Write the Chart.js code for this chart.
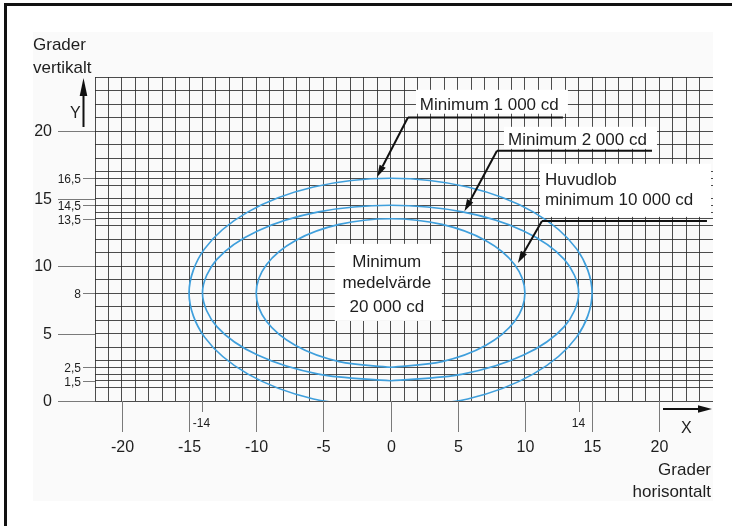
<!DOCTYPE html>
<html><head><meta charset="utf-8">
<script src="https://cdn.jsdelivr.net/npm/chart.js@4/dist/chart.umd.min.js"></script>
<style>html,body{margin:0;padding:0;background:#fff}#wrap{width:732px;height:526px}</style>
</head><body><div id="wrap"><canvas id="c" width="732" height="526"></canvas></div>
<script>
// ---- data (degrees) ----
const curveNames = ['Minimum 1 000 cd', 'Minimum 2 000 cd', 'Huvudlob minimum 10 000 cd'];
const outerX = [0, 5.74, 10.61, 13.86, 15, 13.86, 10.61, 5.74, 0, -5.74, -10.61, -13.86, -15, -13.86, -10.61, -5.74, 0];
const outerY = [-0.5, 0.15, 1.99, 4.75, 8, 11.25, 14.01, 15.85, 16.5, 15.85, 14.01, 11.25, 8, 4.75, 1.99, 0.15, -0.5];
const midX = [0, 5.36, 9.90, 12.93, 14, 12.93, 9.90, 5.36, 0, -5.36, -9.90, -12.93, -14, -12.93, -9.90, -5.36, 0];
const midY = [1.5, 1.99, 3.40, 5.51, 8, 10.49, 12.60, 14.01, 14.5, 14.01, 12.60, 10.49, 8, 5.51, 3.40, 1.99, 1.5];
const innerX = [0, 3.83, 7.07, 9.24, 10, 9.24, 7.07, 3.83, 0, -3.83, -7.07, -9.24, -10, -9.24, -7.07, -3.83, 0];
const innerY = [2.5, 2.92, 4.11, 5.90, 8, 10.10, 11.89, 13.08, 13.5, 13.08, 11.89, 10.10, 8, 5.90, 4.11, 2.92, 2.5];

const xMajorTicks = [-20, -15, -10, -5, 0, 5, 10, 15, 20];
const xMinorTicks = [-14, 14];
const yMajorTicks = [0, 5, 10, 15, 20];
const yMinorTicks = [1.5, 2.5, 8, 13.5, 14.5, 16.5];
const yHalfLines = [1.5, 2.5, 13.5, 14.5, 16.5];
const centerText = ['Minimum', 'medelvärde', '20 000 cd'];

// ---- annotation layout (data units) ----
const FONT = '"Liberation Sans", Arial, Helvetica, sans-serif';
const BLUE = '#3f9fdc';
const INK = '#1e1e1e';
const notes = [
  {lines: ['Minimum 1 000 cd'], tx: 2.18, ty: [21.57], box: [1.89, 23.05, 13.2, 21.28],
   lead: [[12.83, 21.0], [1.29, 21.0], [-1.0, 16.6]]},
  {lines: ['Minimum 2 000 cd'], tx: 8.74, ty: [18.98], box: [8.44, 20.31, 19.83, 18.68],
   lead: [[19.46, 18.53], [7.92, 18.53], [5.5, 14.05]]},
  {lines: ['Huvudlob', 'minimum 10 000 cd'], tx: 11.49, ty: [16.01, 14.53], box: [11.12, 17.57, 23.85, 13.64],
   lead: [[23.55, 13.34], [11.27, 13.34], [9.48, 10.23]]}
];
const centerBox = [-4.15, 11.64, 3.82, 5.93];
const centerPos = {x: -0.28, y: [9.96, 8.38, 6.62]};

const pts = (xs, ys) => xs.map((x, i) => ({x, y: ys[i]}));
const xGrid = []; for (let v = -22; v <= 24; v++) xGrid.push(v);
const yGrid = []; for (let v = 0; v <= 24; v++) yGrid.push(v);
const yGridAll = yGrid.concat(yHalfLines).sort((a, b) => a - b);
const fmt = v => String(v).replace('.', ',');

function arrow(ctx, x0, y0, x1, y1, len, half) {
  const ang = Math.atan2(y1 - y0, x1 - x0);
  const bx = x1 - Math.cos(ang) * len, by = y1 - Math.sin(ang) * len;
  ctx.beginPath(); ctx.moveTo(x0, y0); ctx.lineTo(bx, by); ctx.stroke();
  ctx.beginPath();
  ctx.moveTo(x1, y1);
  ctx.lineTo(bx - Math.sin(ang) * half, by + Math.cos(ang) * half);
  ctx.lineTo(bx + Math.sin(ang) * half, by - Math.cos(ang) * half);
  ctx.closePath(); ctx.fill();
}

const decor = {
  id: 'decor',
  beforeDraw(chart) {
    const ctx = chart.ctx;
    ctx.save();
    ctx.fillStyle = '#fafafa'; ctx.fillRect(33, 32, 680, 469);
    ctx.restore();
  },
  beforeDatasetsDraw(chart) {
    const ctx = chart.ctx, X = chart.scales.x, Y = chart.scales.y;
    ctx.save();
    ctx.fillStyle = '#ffffff';
    const boxes = notes.map(n => n.box).concat([centerBox]);
    boxes.forEach(b => {
      const x0 = X.getPixelForValue(b[0]), y0 = Y.getPixelForValue(b[1]);
      const x1 = X.getPixelForValue(b[2]), y1 = Y.getPixelForValue(b[3]);
      ctx.fillRect(x0, y0, x1 - x0, y1 - y0);
    });
    ctx.restore();
  },
  afterDraw(chart) {
    const ctx = chart.ctx, X = chart.scales.x, Y = chart.scales.y, ca = chart.chartArea;
    ctx.save();
    // frame
    ctx.fillStyle = '#111';
    ctx.fillRect(4, 3, 728, 3);
    ctx.fillRect(4, 3, 3, 523);
    // ticks
    ctx.strokeStyle = '#7a7a7a'; ctx.lineWidth = 1;
    ctx.fillStyle = INK;
    ctx.textAlign = 'center'; ctx.textBaseline = 'alphabetic';
    xMajorTicks.forEach(v => {
      const px = Math.round(X.getPixelForValue(v)) + 0.5;
      ctx.beginPath(); ctx.moveTo(px, ca.bottom); ctx.lineTo(px, ca.bottom + 31); ctx.stroke();
      ctx.font = '16px ' + FONT; ctx.fillText(String(v), px, ca.bottom + 51);
    });
    xMinorTicks.forEach(v => {
      const px = Math.round(X.getPixelForValue(v)) + 0.5;
      ctx.beginPath(); ctx.moveTo(px, ca.bottom); ctx.lineTo(px, ca.bottom + 11); ctx.stroke();
      ctx.font = '12px ' + FONT; ctx.fillText(String(v), px - 1, ca.bottom + 26);
    });
    ctx.textAlign = 'right'; ctx.textBaseline = 'middle';
    yMajorTicks.forEach(v => {
      const py = Math.round(Y.getPixelForValue(v)) + 0.5;
      ctx.beginPath(); ctx.moveTo(ca.left - 37, py); ctx.lineTo(ca.left, py); ctx.stroke();
      ctx.font = '16px ' + FONT; ctx.fillText(fmt(v), ca.left - 43, py);
    });
    yMinorTicks.forEach(v => {
      const py = Math.round(Y.getPixelForValue(v)) + 0.5;
      ctx.beginPath(); ctx.moveTo(ca.left - 12, py); ctx.lineTo(ca.left, py); ctx.stroke();
      ctx.font = '12px ' + FONT; ctx.fillText(fmt(v), ca.left - 14, py + 1);
    });
    // annotations
    ctx.textAlign = 'left'; ctx.textBaseline = 'alphabetic';
    ctx.font = '17px ' + FONT; ctx.fillStyle = INK;
    ctx.strokeStyle = '#111'; ctx.lineWidth = 2;
    notes.forEach(n => {
      n.lines.forEach((t, i) => ctx.fillText(t, X.getPixelForValue(n.tx), Y.getPixelForValue(n.ty[i])));
      const p = n.lead.map(q => [X.getPixelForValue(q[0]), Y.getPixelForValue(q[1])]);
      ctx.beginPath(); ctx.moveTo(p[0][0], p[0][1]); ctx.lineTo(p[1][0], p[1][1]); ctx.stroke();
      ctx.fillStyle = '#111';
      arrow(ctx, p[1][0], p[1][1], p[2][0], p[2][1], 12, 3.5);
      ctx.fillStyle = INK;
    });
    ctx.textAlign = 'center';
    centerText.forEach((t, i) => ctx.fillText(t, X.getPixelForValue(centerPos.x), Y.getPixelForValue(centerPos.y[i])));
    // axis titles and arrows
    ctx.textAlign = 'left';
    ctx.fillText('Grader', 33, 50);
    ctx.fillText('vertikalt', 33, 73);
    ctx.textAlign = 'right';
    ctx.fillText('Grader', 711, 475);
    ctx.fillText('horisontalt', 711, 497);
    ctx.textAlign = 'left'; ctx.font = '16px ' + FONT;
    ctx.fillText('Y', 70, 118);
    ctx.fillText('X', 681, 433);
    ctx.fillStyle = '#111'; ctx.strokeStyle = '#111'; ctx.lineWidth = 2;
    arrow(ctx, 83.5, 127, 83.5, 78, 18, 3.8);
    arrow(ctx, 663, 409, 712, 409, 14, 3.8);
    ctx.restore();
  }
};

new Chart(document.getElementById('c'), {
  type: 'scatter',
  data: {
    datasets: [
      {label: curveNames[0], data: pts(outerX, outerY)},
      {label: curveNames[1], data: pts(midX, midY)},
      {label: curveNames[2], data: pts(innerX, innerY)}
    ].map(d => Object.assign(d, {showLine: true, borderColor: BLUE, backgroundColor: BLUE, borderWidth: 1.7, pointRadius: 0, tension: 0.34, fill: false}))
  },
  options: {
    responsive: false, animation: false,
    layout: {padding: {left: 95, top: 77, right: 19, bottom: 125}},
    elements: {line: {capBezierPoints: false}},
    plugins: {legend: {display: false}, tooltip: {enabled: false}},
    scales: {
      x: {
        type: 'linear', min: -22, max: 24,
        afterBuildTicks: s => { s.ticks = xGrid.map(v => ({value: v})); },
        ticks: {display: false},
        grid: {drawTicks: false, lineWidth: 1, color: c => (c.tick && c.tick.value === 24) ? 'rgba(0,0,0,0)' : 'rgba(45,45,45,0.85)'},
        border: {display: false}
      },
      y: {
        type: 'linear', min: 0, max: 24,
        afterBuildTicks: s => { s.ticks = yGridAll.map(v => ({value: v})); },
        ticks: {display: false},
        grid: {drawTicks: false, lineWidth: 1, color: 'rgba(45,45,45,0.85)'},
        border: {display: false}
      }
    }
  },
  plugins: [decor]
});
</script>
</body></html>
